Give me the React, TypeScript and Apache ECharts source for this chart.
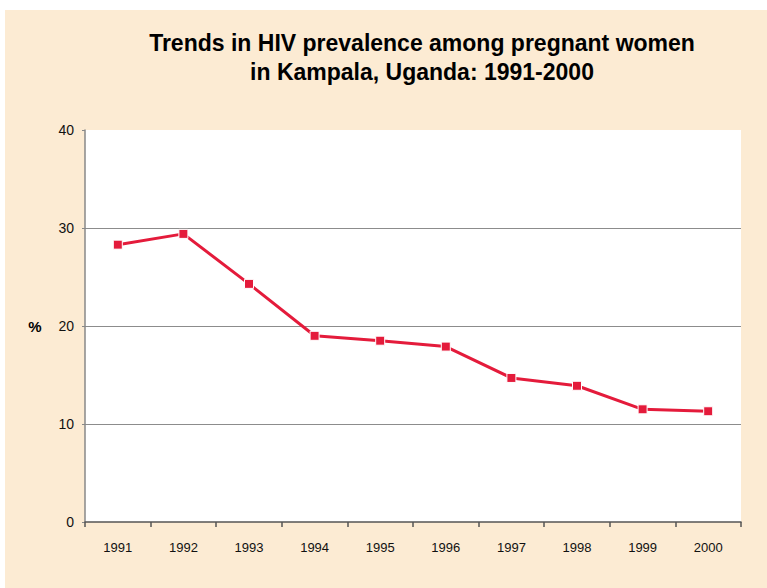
import React, { useEffect, useRef } from "react";
import * as echarts from "echarts";

const years = ["1991", "1992", "1993", "1994", "1995", "1996", "1997", "1998", "1999", "2000"];
const prevalence = [28.3, 29.4, 24.3, 19.0, 18.5, 17.9, 14.7, 13.9, 11.5, 11.3];
const titleLines = ["Trends in HIV prevalence among pregnant women", "in Kampala, Uganda: 1991-2000"];
const yLabel = "%";

export default function App() {
  const ref = useRef<HTMLDivElement>(null);
  useEffect(() => {
    if (!ref.current) return;
    const chart = echarts.init(ref.current, undefined, { renderer: "svg" });
    const font = "'Liberation Sans', Arial, sans-serif";
    chart.setOption({
      animation: false,
      backgroundColor: "#ffffff",
      textStyle: { fontFamily: font },
      graphic: [
        {
          type: "rect",
          z: -10,
          silent: true,
          shape: { x: 5, y: 10, width: 762, height: 578 },
          style: { fill: "#FCEBD3" },
        },
        {
          type: "text",
          x: 35,
          y: 326,
          style: {
            text: yLabel,
            fontFamily: font,
            fontSize: 15,
            fontWeight: "bold",
            fill: "#000",
            align: "center",
            verticalAlign: "middle",
          },
        },
      ],
      title: {
        text: titleLines.join("\n"),
        left: 417,
        top: 23,
        textAlign: "center",
        textStyle: {
          fontFamily: font,
          fontSize: 23,
          fontWeight: "bold",
          color: "#000",
          lineHeight: 29.5,
        },
      },
      grid: {
        left: 85,
        right: 26,
        top: 130,
        bottom: 66,
        show: true,
        backgroundColor: "#ffffff",
        borderWidth: 0,
      },
      xAxis: {
        type: "category",
        data: years,
        boundaryGap: true,
        axisLine: { show: true, lineStyle: { color: "#555", width: 1.5 } },
        axisTick: { show: true, length: 5, lineStyle: { color: "#555", width: 1.5 } },
        axisLabel: { fontSize: 13, color: "#111", margin: 19, fontFamily: font },
        splitLine: { show: false },
      },
      yAxis: {
        type: "value",
        min: 0,
        max: 40,
        interval: 10,
        axisLine: { show: true, lineStyle: { color: "#888", width: 1.5 } },
        axisTick: { show: true, length: 3, lineStyle: { color: "#888" } },
        axisLabel: { fontSize: 14, color: "#111", margin: 11, fontFamily: font },
        splitLine: {
          show: true,
          showMinLine: false,
          showMaxLine: false,
          lineStyle: { color: "#8c8c8c", width: 1 },
        },
      },
      series: [
        {
          type: "line",
          data: prevalence,
          symbol: "rect",
          symbolSize: 9,
          lineStyle: { color: "#E41B3B", width: 3 },
          itemStyle: { color: "#E41B3B", borderColor: "#ffffff", borderWidth: 1 },
        },
      ],
    });
    return () => chart.dispose();
  }, []);
  return (
    <div
      ref={ref}
      style={{ position: "absolute", left: 0, top: 0, width: 767, height: 588 }}
    />
  );
}
